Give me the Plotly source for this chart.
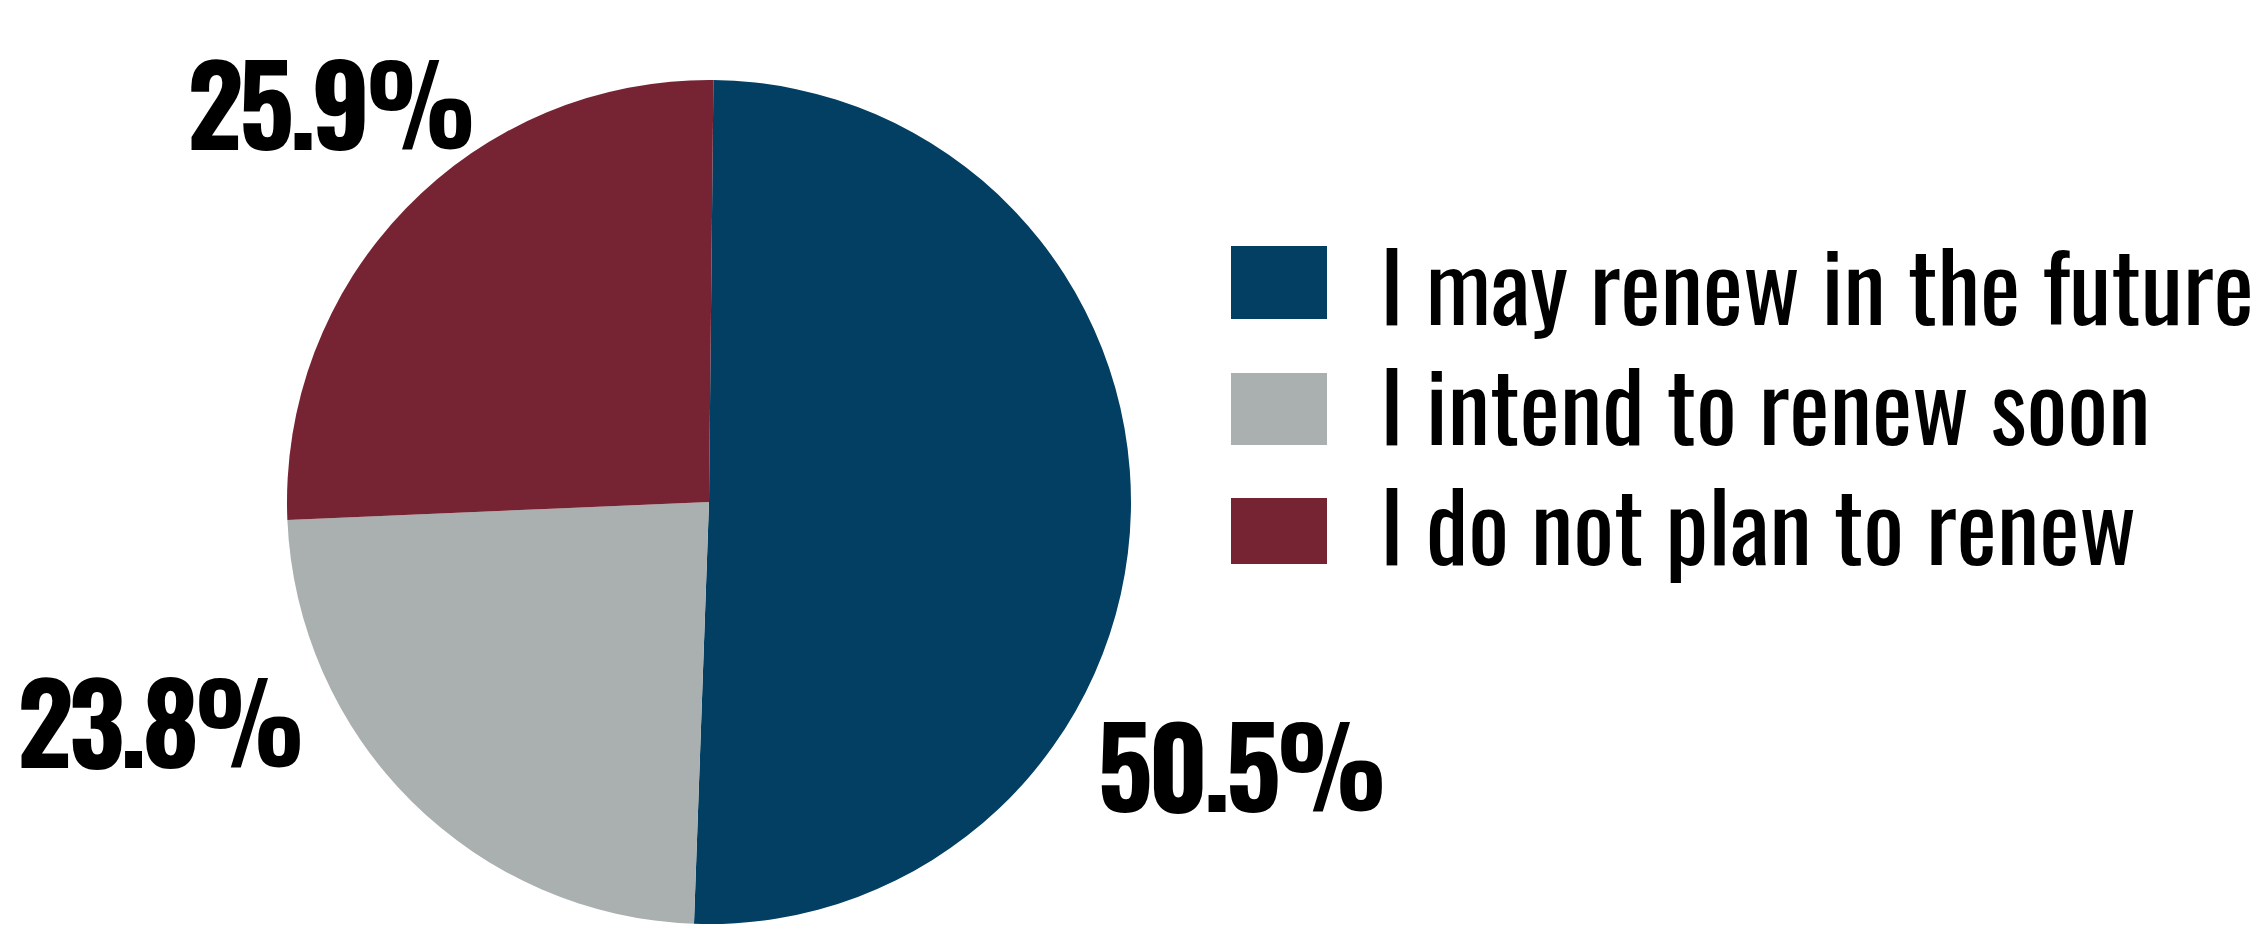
import plotly.graph_objects as go

# ---- data ----
categories = ["I may renew in the future", "I intend to renew soon", "I do not plan to renew"]
values = [50.5, 23.8, 25.9]
colors = ["#033F62", "#A9B0AF", "#762433"]

# the page body adds an 8px margin, so the figure is sized to fit the window
OFF = 8
W, H = 2260 - OFF, 926 - OFF
FONT = "Oswald, 'Roboto Condensed', sans-serif"


def px(x):
    """screen x (px) -> paper fraction"""
    return (x - OFF) / W


def py(y):
    """screen y (px, from top) -> paper fraction"""
    return 1 - (y - OFF) / H


fig = go.Figure()
fig.add_trace(go.Pie(
    labels=categories,
    values=values,
    marker=dict(colors=colors, line=dict(width=0)),
    sort=False,
    direction="clockwise",
    rotation=0.6,
    textinfo="none",
    hoverinfo="label+percent",
    showlegend=False,
    domain=dict(x=[px(287), px(1131)], y=[py(924), py(80)]),
))

# percentage labels (text from the values)
label_pos = [(1240, 762), (158, 718), (329, 100)]
for v, (x, y) in zip(values, label_pos):
    fig.add_annotation(
        x=px(x), y=py(y), xref="paper", yref="paper",
        text=f'<span style="letter-spacing:-5px">{v:.1f}%</span>', showarrow=False,
        xanchor="center", yanchor="middle",
        font=dict(family=FONT, size=110, color="#000000", weight="bold"),
    )

# custom legend
box_x0, box_x1 = 1231, 1327
box_rows = [(246, 319), (373, 445), (498, 564)]
text_mid = [281.5, 401.5, 521]
for cat, col, (top, bot), ym in zip(categories, colors, box_rows, text_mid):
    fig.add_shape(
        type="rect", xref="paper", yref="paper",
        x0=px(box_x0), x1=px(box_x1), y0=py(bot), y1=py(top),
        fillcolor=col, line=dict(width=0),
    )
    fig.add_annotation(
        x=px(1378), y=py(ym), xref="paper", yref="paper",
        text=cat, showarrow=False, xanchor="left", yanchor="middle",
        font=dict(family=FONT, size=96, color="#000000"),
    )

fig.update_layout(
    width=W, height=H,
    margin=dict(l=0, r=0, t=0, b=0),
    paper_bgcolor="#ffffff", plot_bgcolor="#ffffff",
    showlegend=False,
)

fig.write_html("out.html")
